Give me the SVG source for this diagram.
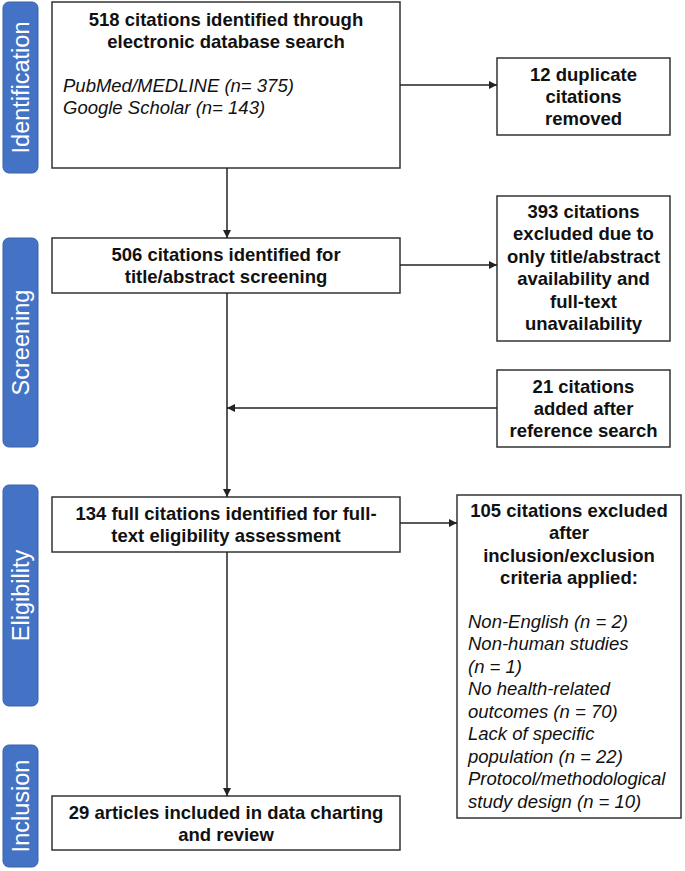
<svg xmlns="http://www.w3.org/2000/svg" width="685" height="871" viewBox="0 0 685 871">
<style>
.box{fill:#fff;stroke:#333;stroke-width:1.5}
.phase{fill:#4472C4;stroke:#3a62a8;stroke-width:1}
.pt{font-family:"Liberation Sans",Arial,sans-serif;font-size:23.5px;fill:#fff;text-anchor:middle}
.b{font-family:"Liberation Sans",Arial,sans-serif;font-size:18.5px;font-weight:bold;fill:#111;text-anchor:middle}
.i{font-family:"Liberation Sans",Arial,sans-serif;font-size:18.5px;font-style:italic;fill:#111}
.c{fill:none;stroke:#222;stroke-width:1.5}
</style>
<defs>
<marker id="ah" viewBox="0 0 10 10" refX="10" refY="5" markerWidth="8" markerHeight="8" markerUnits="userSpaceOnUse" orient="auto">
<path d="M0,0 L10,5 L0,10 z" fill="#222"/>
</marker>
</defs>
<rect width="685" height="871" fill="#fff"/>
<g id="phase-identification"><rect class="phase" x="3" y="2" width="35" height="171" rx="6"/><text class="pt" transform="translate(20.5,87.5) rotate(-90)" dy="8">Identification</text></g>
<g id="phase-screening"><rect class="phase" x="3" y="238" width="35" height="209" rx="6"/><text class="pt" transform="translate(20.5,342.5) rotate(-90)" dy="8">Screening</text></g>
<g id="phase-eligibility"><rect class="phase" x="3" y="485" width="35" height="221" rx="6"/><text class="pt" transform="translate(20.5,595.5) rotate(-90)" dy="8">Eligibility</text></g>
<g id="phase-inclusion"><rect class="phase" x="3" y="745" width="35" height="122" rx="6"/><text class="pt" transform="translate(20.5,806) rotate(-90)" dy="8">Inclusion</text></g>

<g id="n518"><rect class="box" x="52" y="2" width="348" height="166"/>
<text class="b" x="226" y="26">518 citations identified through</text>
<text class="b" x="226" y="48">electronic database search</text>
<text class="i" x="63" y="92">PubMed/MEDLINE (n= 375)</text>
<text class="i" x="63" y="114">Google Scholar (n= 143)</text></g>

<g id="n12"><rect class="box" x="497" y="58" width="173" height="77"/>
<text class="b" x="583.5" y="81">12 duplicate</text>
<text class="b" x="583.5" y="103">citations</text>
<text class="b" x="583.5" y="125">removed</text></g>

<g id="n506"><rect class="box" x="52" y="238" width="348" height="55"/>
<text class="b" x="226" y="261">506 citations identified for</text>
<text class="b" x="226" y="283">title/abstract screening</text></g>

<g id="n393"><rect class="box" x="497" y="196" width="173" height="145"/>
<text class="b" x="583.5" y="218">393 citations</text>
<text class="b" x="583.5" y="240">excluded due to</text>
<text class="b" x="583.5" y="263">only title/abstract</text>
<text class="b" x="583.5" y="285">availability and</text>
<text class="b" x="583.5" y="308">full-text</text>
<text class="b" x="583.5" y="330">unavailability</text></g>

<g id="n21"><rect class="box" x="497" y="370" width="173" height="77"/>
<text class="b" x="583.5" y="393">21 citations</text>
<text class="b" x="583.5" y="415">added after</text>
<text class="b" x="583.5" y="437">reference search</text></g>

<g id="n134"><rect class="box" x="52" y="497" width="348" height="55"/>
<text class="b" x="226" y="520">134 full citations identified for full-</text>
<text class="b" x="226" y="542">text eligibility assessment</text></g>

<g id="n105"><rect class="box" x="457" y="495" width="224" height="323"/>
<text class="b" x="569" y="517">105 citations excluded</text>
<text class="b" x="569" y="539">after</text>
<text class="b" x="569" y="562">inclusion/exclusion</text>
<text class="b" x="569" y="584">criteria applied:</text>
<text class="i" x="468" y="628">Non-English (n = 2)</text>
<text class="i" x="468" y="650">Non-human studies</text>
<text class="i" x="468" y="673">(n = 1)</text>
<text class="i" x="468" y="695">No health-related</text>
<text class="i" x="468" y="718">outcomes (n = 70)</text>
<text class="i" x="468" y="740">Lack of specific</text>
<text class="i" x="468" y="763">population (n = 22)</text>
<text class="i" x="468" y="785">Protocol/methodological</text>
<text class="i" x="468" y="808">study design (n = 10)</text></g>

<g id="n29"><rect class="box" x="52" y="796" width="348" height="54"/>
<text class="b" x="226" y="819">29 articles included in data charting</text>
<text class="b" x="226" y="841">and review</text></g>

<g id="connectors">
<line class="c" x1="227" y1="168" x2="227" y2="238" marker-end="url(#ah)"/>
<line class="c" x1="400" y1="85" x2="497" y2="85" marker-end="url(#ah)"/>
<line class="c" x1="400" y1="265" x2="497" y2="265" marker-end="url(#ah)"/>
<line class="c" x1="227" y1="293" x2="227" y2="497" marker-end="url(#ah)"/>
<line class="c" x1="497" y1="408" x2="227" y2="408" marker-end="url(#ah)"/>
<line class="c" x1="400" y1="523" x2="457" y2="523" marker-end="url(#ah)"/>
<line class="c" x1="227" y1="552" x2="227" y2="796" marker-end="url(#ah)"/>
</g>
</svg>
